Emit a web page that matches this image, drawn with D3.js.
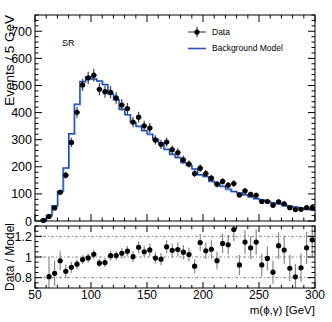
<!DOCTYPE html>
<html><head><meta charset="utf-8">
<script src="https://cdn.jsdelivr.net/npm/d3@7"></script>
<style>body{margin:0;background:#fff}svg text{font-family:"Liberation Sans",Arial,Helvetica,sans-serif}</style>
</head><body><svg id="c" width="332" height="322"></svg>
<script>
// bin centres (GeV), 5 GeV bins
const binCenters = [57.5,62.5,67.5,72.5,77.5,82.5,87.5,92.5,97.5,102.5,107.5,112.5,117.5,122.5,127.5,132.5,137.5,142.5,147.5,152.5,157.5,162.5,167.5,172.5,177.5,182.5,187.5,192.5,197.5,202.5,207.5,212.5,217.5,222.5,227.5,232.5,237.5,242.5,247.5,252.5,257.5,262.5,267.5,272.5,277.5,282.5,287.5,292.5,297.5];
const dataCounts = [2,17,48,106,169,290,401,502,528,538,486,477,475,454,428,415,365,383,351,343,299,283,291,263,252,226,210,175,195,175,158,136,146,132,138,96,111,98,95,72,72,58,71,63,49,42,43,49,49];
const dataErrors = [1.4,4.1,7,10,13,17,20,22,23,23,22,22,22,21,21,20,19,20,19,19,17,17,17,16,16,15,14,13,14,13,13,12,12,11,12,10,11,10,10,8.5,8.5,7.6,8.4,8,7,6.5,6.6,7,7];
const modelCounts = [4,21,57,110,196,322,431,515,533,524,517,504,469,448,413,393,364,350,334,321,302,289,265,247,235,216,205,192,171,165,147,141,129,118,109,104,97,90,83,78,73,68,64,59,55,52,48,45,42];
const xTicks = [50,100,150,200,250,300];
const yTicksTop = [0,100,200,300,400,500,600,700];
const yTicksRatio = [0.8,1,1.2];
const binWidth = 5;

const svg = d3.select("#c");
const L = 35, R = 315;
const top1 = 15, bot1 = 221, top2 = 226, bot2 = 288;
const x = d3.scaleLinear().domain([50,300]).range([L,R]);
const y = d3.scaleLinear().domain([0,760]).range([bot1,top1]);
const yr = d3.scaleLinear().domain([0.7,1.3]).range([bot2,top2]);

// ---------- upper panel ----------
const up = svg.append("g");
const stepPts = [[binCenters[0]-binWidth/2, 0]];
binCenters.forEach((c,i)=>{stepPts.push([c-binWidth/2, modelCounts[i]]); stepPts.push([c+binWidth/2, modelCounts[i]]);});
const line = d3.line().x(d=>x(d[0])).y(d=>y(d[1]));
up.append("path").attr("d", line(stepPts)).attr("fill","none").attr("stroke","#7aa2e6").attr("stroke-width",1.6).attr("transform","translate(0.6,0.6)");
up.append("path").attr("d", line(stepPts)).attr("fill","none").attr("stroke","#1d47ad").attr("stroke-width",1.2);

const dg = up.append("g");
binCenters.forEach((c,i)=>{
  dg.append("line").attr("x1",x(c)).attr("x2",x(c)).attr("y1",y(dataCounts[i]-dataErrors[i])).attr("y2",y(Math.min(760,dataCounts[i]+dataErrors[i]))).attr("stroke","#444").attr("stroke-width",1.2);
  dg.append("line").attr("x1",x(c-binWidth/2)).attr("x2",x(c+binWidth/2)).attr("y1",y(dataCounts[i])).attr("y2",y(dataCounts[i])).attr("stroke","#444").attr("stroke-width",1.2);
  dg.append("circle").attr("cx",x(c)).attr("cy",y(dataCounts[i])).attr("r",2.6).attr("fill","#000");
});

function frameTicks(g, yScale, yMaj, yMin, ty, by, xMajLen, yMajLen){
  g.append("rect").attr("x",L).attr("y",ty).attr("width",R-L).attr("height",by-ty).attr("fill","none").attr("stroke","#000").attr("stroke-width",1);
  for(let v=50; v<=300; v+=10){
    const maj = v%50===0; const len = maj? xMajLen : xMajLen/2;
    g.append("line").attr("x1",x(v)).attr("x2",x(v)).attr("y1",by).attr("y2",by-len).attr("stroke","#000");
    g.append("line").attr("x1",x(v)).attr("x2",x(v)).attr("y1",ty).attr("y2",ty+len).attr("stroke","#000");
  }
  yMin.forEach(v=>{
    const maj = yMaj.some(m=>Math.abs(m-v)<1e-6); const len = maj? yMajLen : yMajLen/2;
    const py = yScale(v);
    g.append("line").attr("x1",L).attr("x2",L+len).attr("y1",py).attr("y2",py).attr("stroke","#000");
    g.append("line").attr("x1",R).attr("x2",R-len).attr("y1",py).attr("y2",py).attr("stroke","#000");
  });
}
frameTicks(up, y, yTicksTop, d3.range(0,761,20), top1, bot1, 7, 7);
yTicksTop.forEach(v=>{
  up.append("text").attr("x",32).attr("y",y(v)).attr("dy","0.36em").attr("text-anchor","end").attr("font-size",12.5).text(v);
});
up.append("text").attr("transform",`translate(14,${top1}) rotate(-90)`).attr("text-anchor","end").attr("font-size",13.5).text("Events / 5 GeV");
up.append("text").attr("x",62).attr("y",46).attr("font-size",9).text("SR");

const lg = up.append("g");
lg.append("line").attr("x1",188).attr("x2",206).attr("y1",32).attr("y2",32).attr("stroke","#555").attr("stroke-width",1.2);
lg.append("line").attr("x1",197).attr("x2",197).attr("y1",27).attr("y2",37).attr("stroke","#333").attr("stroke-width",1.2);
lg.append("circle").attr("cx",197).attr("cy",32).attr("r",2.6).attr("fill","#000");
lg.append("text").attr("x",212).attr("y",32).attr("dy","0.35em").attr("font-size",8.5).text("Data");
lg.append("line").attr("x1",188).attr("x2",206).attr("y1",48.5).attr("y2",48.5).attr("stroke","#2a55b8").attr("stroke-width",1.6);
lg.append("text").attr("x",212).attr("y",48.5).attr("dy","0.35em").attr("font-size",8.5).text("Background Model");

// ---------- ratio panel ----------
const lo = svg.append("g");
yTicksRatio.forEach(v=>{
  lo.append("line").attr("x1",L).attr("x2",R).attr("y1",yr(v)).attr("y2",yr(v)).attr("stroke","#666").attr("stroke-width",0.8).attr("stroke-dasharray","3,2,1,2");
});
lo.append("clipPath").attr("id","rc").append("rect").attr("x",L).attr("y",top2).attr("width",R-L).attr("height",bot2-top2);
const rg = lo.append("g").attr("clip-path","url(#rc)");
binCenters.forEach((c,i)=>{
  const r = dataCounts[i]/modelCounts[i];
  const e = dataErrors[i]/modelCounts[i];
  if (r < 0.7) return;
  rg.append("line").attr("x1",x(c)).attr("x2",x(c)).attr("y1",yr(r-e)).attr("y2",yr(r+e)).attr("stroke","#888").attr("stroke-width",1.2);
  rg.append("circle").attr("cx",x(c)).attr("cy",yr(r)).attr("r",2.6).attr("fill","#000");
});
frameTicks(lo, yr, yTicksRatio, d3.range(0.7,1.301,0.05).map(v=>+v.toFixed(2)), top2, bot2, 6, 7);
yTicksRatio.forEach(v=>{
  lo.append("text").attr("x",32).attr("y",yr(v)).attr("dy","0.36em").attr("text-anchor","end").attr("font-size",12.5).text(v);
});
lo.append("text").attr("transform",`translate(14,${(top2+bot2)/2}) rotate(-90)`).attr("text-anchor","middle").attr("font-size",12).text("Data / Model");
xTicks.forEach(v=>{
  lo.append("text").attr("x",x(v)).attr("y",299).attr("text-anchor","middle").attr("font-size",12).text(v);
});
lo.append("text").attr("x",R).attr("y",314).attr("text-anchor","end").attr("font-size",11.5).text("m(ϕ,γ) [GeV]");
</script></body></html>
